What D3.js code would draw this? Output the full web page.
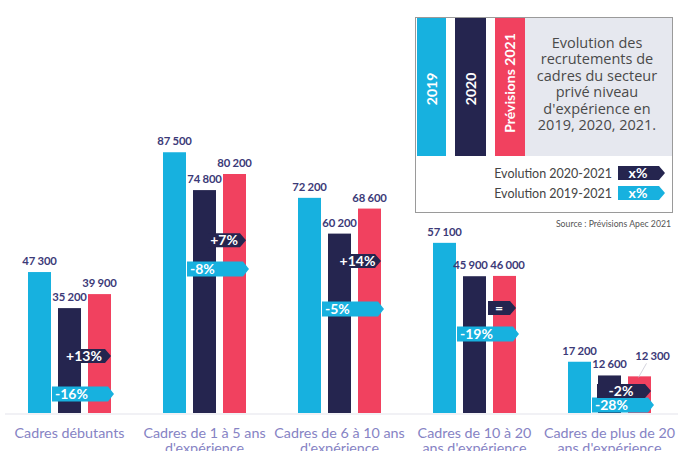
<!DOCTYPE html>
<html>
<head>
<meta charset="utf-8">
<script src="https://cdn.jsdelivr.net/npm/d3@7"></script>
<style>
  html, body { margin: 0; padding: 0; background: #fff; }
  svg { display: block; font-family: Lato, "Open Sans", sans-serif; }
</style>
</head>
<body>
<svg id="chart" width="678" height="451"></svg>
<script>
// ---------- data ----------
const categories = [
  "Cadres débutants",
  "Cadres de 1 à 5 ans|d'expérience",
  "Cadres de 6 à 10 ans|d'expérience",
  "Cadres de 10 à 20|ans d'expérience",
  "Cadres de plus de 20|ans d'expérience"
];
const seriesNames = ["2019", "2020", "Prévisions 2021"];
const values2019 = [47300, 87500, 72200, 57100, 17200];
const values2020 = [35200, 74800, 60200, 45900, 12600];
const values2021 = [39900, 80200, 68600, 46000, 12300];
const evolution2020_2021 = ["+13%", "+7%", "+14%", "=", "-2%"];
const evolution2019_2021 = ["-16%", "-8%", "-5%", "-19%", "-28%"];
const titleLines = ["Evolution des", "recrutements de", "cadres du secteur", "privé niveau", "d'expérience en", "2019, 2020, 2021."];
const legendRows = ["Evolution 2020-2021", "Evolution 2019-2021"];
const sourceText = "Source : Prévisions Apec 2021";

// ---------- layout (not data) ----------
const colors = ["#17b1df", "#25254f", "#f1415f"];
const navyTagStart = [35, 45, 42, 55, 29];               // px from group left
const navyTagLevel = [19100, 58000, 51000, 35200, 7400]; // vertical anchor in value units
const cyanTagLevel = [6400, 48300, 34900, 26500, 2700];

const svg = d3.select("#chart");
const series = [values2019, values2020, values2021];

const x0 = d3.scaleBand().domain(categories).range([28, 651]).paddingInner(52 / 135).paddingOuter(0);
const x1 = d3.scaleBand().domain(seriesNames).range([0, x0.bandwidth()]).paddingInner(7 / 30).paddingOuter(0);
const y = d3.scaleLinear().domain([0, 100000]).range([413, 115]);

// baseline
svg.append("line").attr("x1", 5).attr("x2", 678).attr("y1", y(0) + 1).attr("y2", y(0) + 1)
  .attr("stroke", "#e3e3ec").attr("stroke-width", 1.2);

// bars
const groups = svg.selectAll("g.grp").data(categories).join("g")
  .attr("class", "grp").attr("transform", d => `translate(${x0(d)},0)`);

groups.each(function (cat, i) {
  const g = d3.select(this);
  seriesNames.forEach((s, k) => {
    const v = series[k][i];
    g.append("rect").attr("x", x1(s)).attr("width", x1.bandwidth())
      .attr("y", y(v)).attr("height", y(0) - y(v)).attr("fill", colors[k]);
  });
});

function tagPath(xa, xb, yc, h, tip) {
  return `M${xa},${yc - h / 2}L${xb - tip},${yc - h / 2}L${xb},${yc}L${xb - tip},${yc + h / 2}L${xa},${yc + h / 2}Z`;
}

// evolution tags
groups.each(function (cat, i) {
  const g = d3.select(this);
  const bw = x0.bandwidth();
  const cy = y(cyanTagLevel[i]);
  const cx0 = x1.bandwidth() + 1, cx1 = bw + 3;
  g.append("path").attr("d", tagPath(cx0, cx1, cy, 15, 6)).attr("fill", colors[0]);
  g.append("text").attr("x", cx0 + 3).attr("y", cy + 5)
    .attr("fill", "#fff").attr("font-weight", 700).attr("font-size", 14)
    .text(evolution2019_2021[i]);
  const ny = y(navyTagLevel[i]);
  const nx0 = navyTagStart[i], nx1 = bw;
  g.append("path").attr("d", tagPath(nx0, nx1, ny, 14, 6)).attr("fill", colors[1]);
  g.append("text").attr("x", (nx0 + nx1 - 6) / 2).attr("y", ny + 5)
    .attr("text-anchor", "middle")
    .attr("fill", "#fff").attr("font-weight", 700).attr("font-size", 14)
    .text(evolution2020_2021[i]);
});

// value labels
groups.each(function (cat, i) {
  const g = d3.select(this);
  seriesNames.forEach((s, k) => {
    const v = series[k][i];
    let lx = x1(s) + x1.bandwidth() / 2, ly = y(v) - 7;
    if (i === 3 && k === 1) lx -= 4;
    if (i === 3 && k === 2) lx += 3;
    const special = (i === categories.length - 1 && k === 2);
    if (special) {
      lx += 13; ly -= 9;
      g.append("line").attr("x1", lx - 6).attr("y1", ly + 3).attr("x2", lx - 14).attr("y2", y(v) + 1)
        .attr("stroke", "#c8c8d4").attr("stroke-width", 0.8);
    }
    g.append("text").attr("x", lx).attr("y", ly).attr("text-anchor", "middle")
      .attr("fill", "#3c3a78").attr("font-weight", 700).attr("font-size", 11.3)
      .attr("letter-spacing", -0.2)
      .text(d3.format(",")(v).replace(/,/g, " "));
  });
});

// category labels
groups.each(function (cat) {
  const g = d3.select(this);
  cat.split("|").forEach((ln, j) => {
    g.append("text").attr("x", x0.bandwidth() / 2).attr("y", 438 + j * 14.5)
      .attr("text-anchor", "middle").attr("fill", "#8683c4").attr("font-size", 14.3)
      .text(ln);
  });
});

// ---------- legend box ----------
const lg = svg.append("g");
lg.append("rect").attr("x", 415.5).attr("y", 17.5).attr("width", 257).attr("height", 195)
  .attr("fill", "#fff").attr("stroke", "#9a9a9a").attr("stroke-width", 1);
lg.append("rect").attr("x", 525).attr("y", 18).attr("width", 147).attr("height", 138).attr("fill", "#e6e8ef");
const legCols = [[417, 29], [455, 31], [495, 30]];
seriesNames.forEach((s, k) => {
  lg.append("rect").attr("x", legCols[k][0]).attr("y", 18).attr("width", legCols[k][1]).attr("height", 138)
    .attr("fill", colors[k]);
  const cx = legCols[k][0] + legCols[k][1] / 2;
  lg.append("text").attr("transform", `translate(${cx + 5},${k === 2 ? 83 : 89}) rotate(-90)`)
    .attr("text-anchor", "middle").attr("fill", "#fff").attr("font-weight", 700).attr("font-size", 14)
    .text(s);
});
titleLines.forEach((t, j) => {
  lg.append("text").attr("x", 597).attr("y", 48 + j * 16.4).attr("text-anchor", "middle")
    .attr("fill", "#4a4a4a").attr("font-family", "'Open Sans', sans-serif").attr("font-size", 14.5)
    .text(t);
});
legendRows.forEach((t, j) => {
  const yc = 173 + j * 20;
  lg.append("text").attr("x", 612).attr("y", yc + 4.5).attr("text-anchor", "end")
    .attr("fill", "#444").attr("font-size", 12.5).text(t);
  lg.append("path").attr("d", tagPath(618, 665, yc, 14, 6)).attr("fill", colors[j === 0 ? 1 : 0]);
  lg.append("text").attr("x", 638).attr("y", yc + 5).attr("text-anchor", "middle")
    .attr("fill", "#fff").attr("font-weight", 700).attr("font-size", 14).text("x%");
});
svg.append("text").attr("x", 671).attr("y", 227).attr("text-anchor", "end")
  .attr("fill", "#555").attr("font-size", 8.7).text(sourceText);
</script>
</body>
</html>
